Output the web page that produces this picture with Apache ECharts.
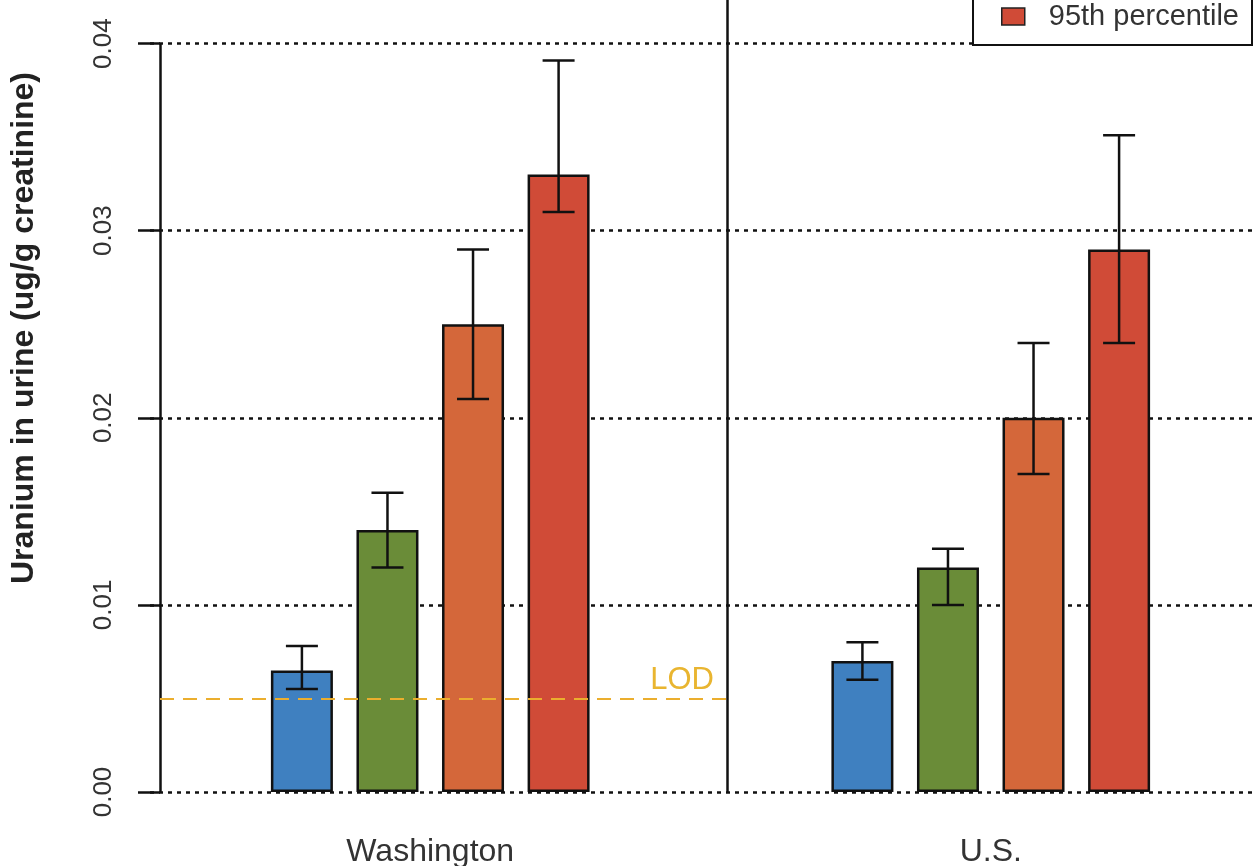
<!DOCTYPE html>
<html>
<head>
<meta charset="utf-8">
<script src="https://cdn.jsdelivr.net/npm/echarts@6/dist/echarts.min.js"></script>
<style>
html,body{margin:0;padding:0;background:#fff;}
#chart{width:1255px;height:866px;}
</style>
</head>
<body>
<div id="chart"></div>
<script>
// ---- data ----
const categories = ['Washington', 'U.S.'];
const seriesNames = ['50th percentile', '75th percentile', '90th percentile', '95th percentile'];
const seriesColors = ['#3F80C0', '#6A8C38', '#D4673A', '#D04B37'];
const values = [
  [0.0065, 0.007],
  [0.014, 0.012],
  [0.025, 0.020],
  [0.033, 0.029]
];
const lower = [
  [0.0055, 0.006],
  [0.012, 0.010],
  [0.021, 0.017],
  [0.031, 0.024]
];
const upper = [
  [0.0078, 0.008],
  [0.016, 0.013],
  [0.029, 0.024],
  [0.0391, 0.0351]
];
const yTicks = [0, 0.01, 0.02, 0.03, 0.04];
const lodValue = 0.005;
const lodLabel = 'LOD';
const yTitle = 'Uranium in urine (ug/g creatinine)';

// ---- layout constants ----
const FONT = 'Liberation Sans, Arial, Helvetica, sans-serif';
const BAR_W = 62;
const BAR_GAP = 0.38;            // fraction of bar width
const CAP_W = 32;
const Y_MAX = 0.0496;
// panel units on hidden x axis: 0 = y-axis line, 1 = panel separator
const PANEL_MIN = -0.01764, PANEL_MAX = 1.95944;

const chart = echarts.init(document.getElementById('chart'), null, {renderer: 'canvas'});

const barSeries = seriesNames.map((name, i) => ({
  name: name,
  type: 'bar',
  xAxisIndex: 0,
  yAxisIndex: 0,
  barWidth: BAR_W,
  barGap: (BAR_GAP * 100) + '%',
  itemStyle: {color: seriesColors[i], borderColor: '#111', borderWidth: 2.5},
  emphasis: {disabled: true},
  data: values[i],
  z: 2
}));

const errSeries = seriesNames.map((name, i) => ({
  type: 'custom',
  xAxisIndex: 0,
  yAxisIndex: 0,
  z: 5,
  silent: true,
  data: categories.map((c, j) => [j, lower[i][j], upper[i][j]]),
  renderItem: function (params, api) {
    const cat = api.value(0);
    const lo = api.coord([cat, api.value(1)]);
    const hi = api.coord([cat, api.value(2)]);
    const pitch = BAR_W * (1 + BAR_GAP);
    const x = lo[0] + (i - 1.5) * pitch;
    const st = {stroke: '#111', lineWidth: 2.5};
    return {
      type: 'group',
      children: [
        {type: 'line', shape: {x1: x, y1: lo[1], x2: x, y2: hi[1]}, style: st},
        {type: 'line', shape: {x1: x - CAP_W / 2, y1: hi[1], x2: x + CAP_W / 2, y2: hi[1]}, style: st},
        {type: 'line', shape: {x1: x - CAP_W / 2, y1: lo[1], x2: x + CAP_W / 2, y2: lo[1]}, style: st}
      ]
    };
  }
}));

const refSeries = {
  type: 'line',
  xAxisIndex: 1,
  yAxisIndex: 0,
  data: [],
  silent: true,
  z: 6,
  markLine: {
    symbol: ['none', 'none'],
    silent: true,
    animation: false,
    data: [
      [{coord: [0, yTicks[0]], lineStyle: {color: '#111', width: 2.5, type: 'solid'}, label: {show: false}},
       {coord: [0, yTicks[yTicks.length - 1]]}],
      [{coord: [1, 0], lineStyle: {color: '#111', width: 2.5, type: 'solid'}, label: {show: false}},
       {coord: [1, Y_MAX]}],
      [{coord: [0, lodValue], lineStyle: {color: '#EBAE2E', width: 2, type: [14, 9]},
        label: {show: true, formatter: lodLabel, position: 'insideEndTop', color: '#E9B530',
                fontSize: 31, fontFamily: FONT, distance: [13, 2]}},
       {coord: [1, lodValue]}]
    ]
  }
};

const option = {
  animation: false,
  backgroundColor: '#fff',
  grid: {left: 150, right: -16, top: -136, bottom: 74, containLabel: false, outerBoundsMode: 'none'},
  legend: {
    orient: 'vertical',
    right: 3,
    top: -118,
    data: seriesNames,
    icon: 'rect',
    itemWidth: 23,
    itemHeight: 17,
    itemGap: 6,
    padding: [15, 13, 14, 28],
    backgroundColor: '#fff',
    borderColor: '#111',
    borderWidth: 2,
    itemStyle: {borderColor: '#222', borderWidth: 1.5},
    textStyle: {fontSize: 29, fontFamily: FONT, color: '#333', padding: [0, 0, 0, 19]},
    selectedMode: false,
    z: 20
  },
  xAxis: [
    {
      type: 'category',
      data: categories,
      axisLine: {show: false},
      axisTick: {show: false},
      splitLine: {show: false},
      axisLabel: {fontSize: 32, fontFamily: FONT, color: '#333', margin: 44}
    },
    {
      type: 'value',
      show: false,
      min: PANEL_MIN,
      max: PANEL_MAX,
      splitLine: {show: false}
    }
  ],
  yAxis: {
    type: 'value',
    min: 0,
    max: Y_MAX,
    interval: 0.01,
    offset: -10,
    axisLine: {show: false},
    axisTick: {show: true, length: 22, lineStyle: {color: '#111', width: 2.5}},
    axisLabel: {
      rotate: 90,
      fontSize: 26,
      fontFamily: FONT,
      color: '#333',
      margin: 43,
      showMaxLabel: false,
      formatter: function (v) {
        const hit = yTicks.some(t => Math.abs(t - v) < 1e-9);
        return hit ? v.toFixed(2) : '';
      }
    },
    splitLine: {show: true, lineStyle: {color: '#111', width: 2.5, type: [4, 5]}},
    name: yTitle,
    nameLocation: 'middle',
    nameGap: 120,
    nameTextStyle: {fontSize: 32, fontWeight: 'bold', fontFamily: FONT, color: '#222'}
  },
  series: [...barSeries, ...errSeries, refSeries]
};

chart.setOption(option);
</script>
</body>
</html>
